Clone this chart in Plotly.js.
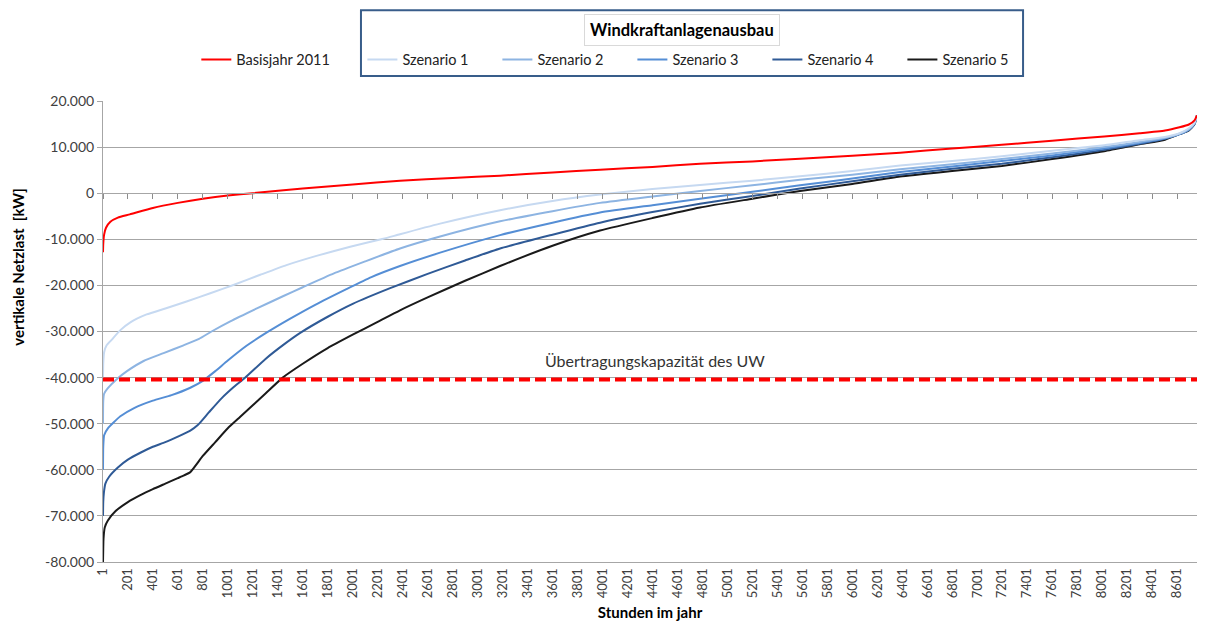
<!DOCTYPE html>
<html>
<head>
<meta charset="utf-8">
<script src="https://cdn.plot.ly/plotly-3.0.1.min.js"></script>
<style>
  html, body { margin: 0; padding: 0; background: #ffffff; }
  #chart { width: 1207px; height: 623px; }
</style>
</head>
<body>
<div id="chart"></div>
<script>
// ---- Data ----
const seriesNames = ["Basisjahr 2011", "Szenario 1", "Szenario 2", "Szenario 3", "Szenario 4", "Szenario 5"];

const hoursBasis = [1, 3, 10, 25, 60, 120, 216, 400, 600, 800, 1000, 1200, 1600, 2000, 2379, 2800, 3180, 3600, 3981, 4400, 4781, 5200, 5582, 6000, 6383, 6800, 7197, 7600, 8017, 8300, 8504, 8620, 8695, 8740, 8760];
const basis = [-12800, -11000, -9000, -7500, -6200, -5300, -4600, -3200, -2100, -1200, -500, 0, 1000, 1900, 2700, 3300, 3800, 4500, 5100, 5700, 6400, 6900, 7500, 8100, 8800, 9700, 10500, 11400, 12300, 13000, 13600, 14300, 14900, 15800, 16900];

const hoursS1 = [1, 3, 10, 30, 70, 140, 220, 350, 500, 670, 860, 1045, 1260, 1470, 1710, 1980, 2245, 2379, 2700, 3180, 3600, 3981, 4400, 4781, 5200, 5582, 6000, 6383, 6800, 7197, 7600, 8017, 8300, 8504, 8620, 8695, 8740, 8760];
const szenario1 = [-40000, -37000, -34500, -33000, -31800, -29700, -28000, -26300, -25000, -23500, -21700, -19900, -17700, -15600, -13600, -11600, -9900, -8900, -6600, -3700, -1700, -300, 900, 1800, 2700, 3700, 4800, 6000, 7000, 8000, 9200, 10400, 11500, 12200, 13000, 14100, 15300, 16900];

const hoursS2 = [1, 3, 10, 40, 113, 193, 326, 486, 646, 770, 870, 1020, 1233, 1446, 1600, 1850, 2100, 2379, 2700, 3180, 3600, 3981, 4400, 4781, 5200, 5582, 6000, 6383, 6800, 7197, 7600, 8017, 8300, 8504, 8620, 8695, 8740, 8760];
const szenario2 = [-50000, -45000, -43500, -42300, -40300, -38600, -36400, -34700, -33000, -31600, -30000, -27800, -25000, -22300, -20400, -17400, -14800, -12000, -9400, -6100, -3900, -2100, -700, 500, 1700, 2900, 4000, 5200, 6300, 7400, 8600, 10000, 11100, 12000, 12900, 13900, 15200, 16900];

const hoursS3 = [1, 3, 10, 40, 140, 250, 400, 550, 700, 800, 900, 1000, 1150, 1313, 1500, 1700, 1950, 2150, 2379, 2700, 3180, 3600, 3981, 4400, 4781, 5200, 5582, 6000, 6383, 6800, 7197, 7600, 8017, 8300, 8504, 8620, 8695, 8740, 8760];
const szenario3 = [-60000, -55000, -52500, -51000, -48400, -46600, -45000, -43800, -42200, -40700, -38600, -36300, -33100, -30200, -27200, -24200, -20800, -18200, -15800, -12900, -9100, -6400, -4200, -2600, -1200, 300, 1700, 3200, 4600, 5800, 7000, 8200, 9700, 10900, 11900, 12800, 13800, 15100, 16900];

const hoursS4 = [1, 3, 8, 20, 50, 120, 200, 300, 400, 500, 600, 700, 760, 850, 950, 1050, 1140, 1300, 1450, 1580, 1800, 2000, 2300, 2600, 2900, 3180, 3600, 3981, 4400, 4781, 5200, 5582, 6000, 6383, 6800, 7197, 7600, 8017, 8300, 8504, 8620, 8695, 8740, 8760];
const szenario4 = [-70000, -67000, -65000, -63000, -61500, -59500, -57800, -56300, -55000, -54000, -52800, -51500, -50300, -47500, -44500, -42000, -40000, -36000, -32800, -30300, -26800, -24000, -20600, -17500, -14600, -12000, -9000, -6400, -4100, -2300, -600, 1000, 2600, 4000, 5300, 6400, 7800, 9400, 10700, 11800, 12800, 13700, 15000, 16900];

const hoursS5 = [1, 3, 5, 15, 40, 100, 200, 300, 400, 500, 600, 650, 700, 800, 900, 1000, 1100, 1200, 1300, 1440, 1600, 1800, 2000, 2200, 2379, 2600, 2900, 3180, 3600, 3981, 4400, 4781, 5200, 5582, 6000, 6383, 6800, 7197, 7600, 8017, 8300, 8504, 8620, 8695, 8740, 8760];
const szenario5 = [-80000, -77000, -75000, -72500, -71000, -69000, -67000, -65500, -64200, -63000, -61800, -61200, -60500, -57000, -54000, -51000, -48500, -46000, -43500, -40000, -37000, -33600, -30700, -27900, -25400, -22600, -19000, -15800, -11400, -8100, -5400, -3100, -1200, 500, 2000, 3600, 4800, 5900, 7400, 9100, 10600, 11600, 12800, 13600, 15000, 16900];

const capacityHours = [1, 8760];
const capacity = [-40400, -40400];
const capacityLabel = "Übertragungskapazität des UW";

const xTickVals = [1, 201, 401, 601, 801, 1001, 1201, 1401, 1601, 1801, 2001, 2201, 2401, 2601, 2801, 3001, 3201, 3401, 3601, 3801, 4001, 4201, 4401, 4601, 4801, 5001, 5201, 5401, 5601, 5801, 6001, 6201, 6401, 6601, 6801, 7001, 7201, 7401, 7601, 7801, 8001, 8201, 8401, 8601];
const yTickVals = [20000, 10000, 0, -10000, -20000, -30000, -40000, -50000, -60000, -70000, -80000];
const yTickText = ["20.000", "10.000", "0", "-10.000", "-20.000", "-30.000", "-40.000", "-50.000", "-60.000", "-70.000", "-80.000"];

const colors = ["#ff0000", "#c6d9f1", "#8db4e2", "#558ed5", "#2f5a96", "#1a1a1a"];

// ---- Traces ----
const FONT = "Lato, 'Open Sans', sans-serif";
const xs = [hoursBasis, hoursS1, hoursS2, hoursS3, hoursS4, hoursS5];
const ys = [basis, szenario1, szenario2, szenario3, szenario4, szenario5];

const traces = [];
// draw scenarios first, basis on top
for (let i = 5; i >= 0; i--) {
  traces.push({
    type: "scatter", mode: "lines",
    x: xs[i], y: ys[i], name: seriesNames[i],
    line: { color: colors[i], width: 2, shape: "spline", smoothing: 0.5 },
    legend: i === 0 ? "legend" : "legend2",
    legendrank: i,
    hoverinfo: "x+y+name"
  });
}
traces.push({
  type: "scatter", mode: "lines",
  x: capacityHours, y: capacity, xaxis: "x2", yaxis: "y",
  line: { color: "#ff0000", width: 4, dash: "11px,5px" },
  showlegend: false, hoverinfo: "skip"
});

const layout = {
  width: 1207, height: 623,
  margin: { l: 103, r: 10, t: 101, b: 61 },
  paper_bgcolor: "#ffffff", plot_bgcolor: "#ffffff",
  font: { family: FONT, size: 14, color: "#404040" },
  showlegend: true,
  xaxis: {
    type: "linear", range: [1, 8760],
    tickmode: "array", tickvals: xTickVals,
    tickangle: -90, ticks: "", showgrid: false, zeroline: false,
    showline: true, linecolor: "#a6a6a6", linewidth: 1,
    tickfont: { family: FONT, size: 13, color: "#404040" },
    title: { text: "Stunden im jahr", font: { family: FONT, size: 15, color: "#000000", weight: "bold" }, standoff: 10 },
    automargin: false
  },
  xaxis2: {
    overlaying: "x", anchor: "free", position: 0.8, side: "bottom",
    type: "linear", range: [1, 8760], matches: "x",
    tickmode: "array", tickvals: xTickVals,
    ticks: "outside", ticklen: 5, tickcolor: "#8c8c8c", tickwidth: 1, showticklabels: false,
    showgrid: false, zeroline: false,
    showline: true, linecolor: "#a6a6a6", linewidth: 1
  },
  yaxis: {
    range: [-80000, 20000],
    tickmode: "array", tickvals: yTickVals, ticktext: yTickText,
    ticks: "outside", ticklen: 5, tickcolor: "#a6a6a6",
    showgrid: true, gridcolor: "#a6a6a6", gridwidth: 1, zeroline: false,
    showline: true, linecolor: "#a6a6a6", linewidth: 1,
    tickfont: { family: FONT, size: 14, color: "#404040" },
    automargin: false
  },
  legend: {
    orientation: "h", x: 0.0853, xanchor: "left", y: 1.09, yanchor: "middle",
    font: { family: FONT, size: 14.5, color: "#222222" },
    bgcolor: "rgba(0,0,0,0)", itemclick: false, itemdoubleclick: false
  },
  legend2: {
    orientation: "h", x: 0.2371, xanchor: "left", y: 1.09, yanchor: "middle",
    entrywidth: 90, entrywidthmode: "pixels", traceorder: "normal",
    font: { family: FONT, size: 14.5, color: "#222222" },
    bgcolor: "rgba(0,0,0,0)", itemclick: false, itemdoubleclick: false
  },
  shapes: [
    { type: "rect", xref: "paper", yref: "paper", x0: 0.2358, x1: 0.8410, y0: 1.054, y1: 1.197,
      line: { color: "#385d8a", width: 2 }, fillcolor: "rgba(0,0,0,0)", layer: "above" }
  ],
  annotations: [
    { text: "<b>Windkraftanlagenausbau</b>", xref: "paper", yref: "paper", x: 0.529, y: 1.154,
      xanchor: "center", yanchor: "middle", showarrow: false,
      font: { family: FONT, size: 16.5, color: "#000000" },
      bordercolor: "#d9d9d9", borderwidth: 1, borderpad: 5, bgcolor: "#ffffff" },
    { text: "<b>vertikale Netzlast  [kW]</b>", xref: "paper", yref: "paper", x: -0.078, y: 0.64,
      xanchor: "center", yanchor: "middle", textangle: -90, showarrow: false,
      font: { family: FONT, size: 15, color: "#000000" } },
    { text: capacityLabel, xref: "x", yref: "y", x: 4420, y: -36300,
      xanchor: "center", yanchor: "middle", showarrow: false,
      font: { family: FONT, size: 16, color: "#333333" } }
  ]
};

Plotly.newPlot("chart", traces, layout, { displayModeBar: false, staticPlot: true });
</script>
</body>
</html>
